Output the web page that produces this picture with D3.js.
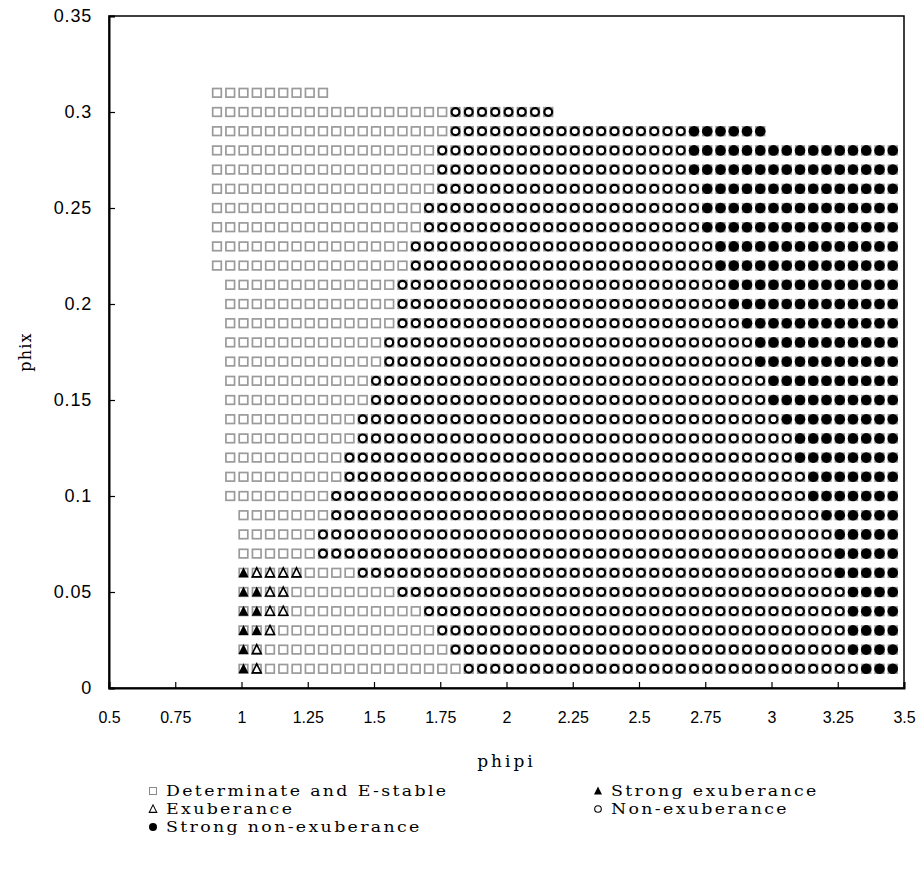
<!DOCTYPE html>
<html><head><meta charset="utf-8">
<script src="https://cdn.jsdelivr.net/npm/d3@7"></script>
<style>body{margin:0;background:#fff}</style>
</head><body>
<svg id="c" width="923" height="879"></svg>
<script>
// Rows of the grid (phix), top to bottom
const phix = [0.31,0.30,0.29,0.28,0.27,0.26,0.25,0.24,0.23,0.22,0.21,0.20,0.19,0.18,0.17,0.16,0.15,0.14,0.13,0.12,0.11,0.10,0.09,0.08,0.07,0.06,0.05,0.04,0.03,0.02,0.01];
// First and last phipi of each row (Determinate and E-stable region)
const rowStart = [0.9,0.9,0.9,0.9,0.9,0.9,0.9,0.9,0.9,0.9,0.95,0.95,0.95,0.95,0.95,0.95,0.95,0.95,0.95,0.95,0.95,0.95,1.0,1.0,1.0,1.0,1.0,1.0,1.0,1.0,1.0];
const rowEnd   = [1.3,2.15,2.95,3.45,3.45,3.45,3.45,3.45,3.45,3.45,3.45,3.45,3.45,3.45,3.45,3.45,3.45,3.45,3.45,3.45,3.45,3.45,3.45,3.45,3.45,3.45,3.45,3.45,3.45,3.45,3.45];
// Last phipi of "Strong exuberance" and "Exuberance" (null = none)
const strongExEnd = [null,null,null,null,null,null,null,null,null,null,null,null,null,null,null,null,null,null,null,null,null,null,null,null,null,1.0,1.05,1.05,1.05,1.0,1.0];
const exEnd       = [null,null,null,null,null,null,null,null,null,null,null,null,null,null,null,null,null,null,null,null,null,null,null,null,null,1.2,1.15,1.15,1.1,1.05,1.05];
// First phipi of "Non-exuberance" and "Strong non-exuberance"
const nonExStart = [null,1.8,1.8,1.75,1.75,1.75,1.7,1.7,1.65,1.65,1.6,1.6,1.6,1.55,1.55,1.5,1.5,1.45,1.45,1.4,1.4,1.35,1.35,1.3,1.3,1.45,1.6,1.7,1.75,1.8,1.85];
const strongNonExStart = [null,null,2.7,2.7,2.7,2.75,2.75,2.75,2.8,2.8,2.85,2.85,2.9,2.95,2.95,3.0,3.0,3.05,3.1,3.1,3.15,3.15,3.2,3.25,3.25,3.25,3.3,3.3,3.3,3.3,3.35];

const xTicks = [0.5,0.75,1,1.25,1.5,1.75,2,2.25,2.5,2.75,3,3.25,3.5];
const yTicks = [0,0.05,0.1,0.15,0.2,0.25,0.3,0.35];
const xTickLabels = ["0.5","0.75","1","1.25","1.5","1.75","2","2.25","2.5","2.75","3","3.25","3.5"];
const yTickLabels = ["0","0.05","0.1","0.15","0.2","0.25","0.3","0.35"];
const legendItems = ["Determinate and E-stable","Strong exuberance","Exuberance","Non-exuberance","Strong non-exuberance"];

// Build the grid points (phipi on a 0.05 grid)
const squares=[], triF=[], triO=[], circO=[], circF=[];
phix.forEach((py,i)=>{
  const a=Math.round(rowStart[i]*100), b=Math.round(rowEnd[i]*100);
  for(let k=a;k<=b;k+=5){
    const px=k/100, p={x:px,y:py};
    squares.push(p);
    if(strongExEnd[i]!==null && k<=Math.round(strongExEnd[i]*100)) triF.push(p);
    else if(exEnd[i]!==null && k<=Math.round(exEnd[i]*100)) triO.push(p);
    if(strongNonExStart[i]!==null && k>=Math.round(strongNonExStart[i]*100)) circF.push(p);
    else if(nonExStart[i]!==null && k>=Math.round(nonExStart[i]*100)) circO.push(p);
  }
});

const svg=d3.select("#c");
const L=109,R=904,T=16,B=688;
const x=d3.scaleLinear().domain([0.5,3.5]).range([L,R]);
const y=d3.scaleLinear().domain([0,0.35]).range([B,T]);
const dx=2;

// frame
svg.append("rect").attr("x",L).attr("y",T).attr("width",R-L).attr("height",B-T)
  .attr("fill","none").attr("stroke","#000").attr("stroke-width",1.5);

// axes with inside ticks
const xa=svg.append("g").attr("transform",`translate(0,${B})`)
  .call(d3.axisBottom(x).tickValues(xTicks).tickSize(-6).tickPadding(24).tickFormat((d,i)=>xTickLabels[i]));
const ya=svg.append("g").attr("transform",`translate(${L},0)`)
  .call(d3.axisLeft(y).tickValues(yTicks).tickSize(-6).tickPadding(17).tickFormat((d,i)=>yTickLabels[i]));
[xa,ya].forEach(g=>{
  g.select(".domain").attr("stroke","#000").attr("stroke-width",2);
  g.selectAll(".tick line").attr("stroke","#000").attr("stroke-width",1.2);
  g.selectAll(".tick text").attr("font-family","'Liberation Sans', Arial, sans-serif").attr("fill","#000");
});
xa.selectAll(".tick text").attr("font-size",16);
ya.selectAll(".tick text").attr("font-size",18).attr("letter-spacing",0.8);

// marks
const g=svg.append("g");
g.selectAll(".sq").data(squares).join("rect")
  .attr("x",d=>x(d.x)+dx-4.3).attr("y",d=>y(d.y)-4.3).attr("width",8.6).attr("height",8.6)
  .attr("fill","none").attr("stroke","#9a9a9a").attr("stroke-width",1.7);
g.selectAll(".co").data(circO).join("circle")
  .attr("cx",d=>x(d.x)+dx).attr("cy",d=>y(d.y)).attr("r",3.9)
  .attr("fill","#fff").attr("stroke","#000").attr("stroke-width",2.2);
g.selectAll(".cf").data(circF).join("circle")
  .attr("cx",d=>x(d.x)+dx).attr("cy",d=>y(d.y)).attr("r",5.3).attr("fill","#000");
const tri=(cx,cy,s)=>`M${cx},${cy-s*0.55}L${cx+s*0.5},${cy+s*0.45}L${cx-s*0.5},${cy+s*0.45}Z`;
g.selectAll(".tf").data(triF).join("path")
  .attr("d",d=>tri(x(d.x)+dx,y(d.y),10)).attr("fill","#000");
g.selectAll(".to").data(triO).join("path")
  .attr("d",d=>tri(x(d.x)+dx,y(d.y),9)).attr("fill","#fff").attr("stroke","#000").attr("stroke-width",1.6);

// axis titles
const serif="'DejaVu Serif', 'Liberation Serif', serif";
svg.append("text").attr("x",(L+R)/2).attr("y",767).attr("text-anchor","middle")
  .attr("font-family",serif).attr("font-size",17).attr("letter-spacing",3).text("phipi");
svg.append("text").attr("transform","translate(31,352) rotate(-90)").attr("text-anchor","middle")
  .attr("font-family",serif).attr("font-size",16).attr("letter-spacing",1.2).text("phix");

// legend
const leg=[
  {t:legendItems[0],sx:153,ty:796,sym:"sq"},
  {t:legendItems[1],sx:598,ty:796,sym:"tf"},
  {t:legendItems[2],sx:153,ty:814,sym:"to"},
  {t:legendItems[3],sx:598,ty:814,sym:"co"},
  {t:legendItems[4],sx:153,ty:832,sym:"cf"}
];
leg.forEach(l=>{
  const cy=l.ty-5;
  if(l.sym==="sq") svg.append("rect").attr("x",l.sx-3.5).attr("y",cy-3.5).attr("width",7).attr("height",7).attr("fill","none").attr("stroke","#888").attr("stroke-width",1);
  if(l.sym==="tf") svg.append("path").attr("d",tri(l.sx,cy,8)).attr("fill","#000");
  if(l.sym==="to") svg.append("path").attr("d",tri(l.sx,cy,7.5)).attr("fill","none").attr("stroke","#000").attr("stroke-width",1.1);
  if(l.sym==="co") svg.append("circle").attr("cx",l.sx).attr("cy",cy).attr("r",3.3).attr("fill","none").attr("stroke","#000").attr("stroke-width",1.1);
  if(l.sym==="cf") svg.append("circle").attr("cx",l.sx).attr("cy",cy).attr("r",4).attr("fill","#000");
  svg.append("g").attr("transform",`translate(${l.sx+13},${l.ty}) scale(1.12,1)`)
    .append("text").attr("font-family",serif).attr("font-size",15.5)
    .attr("letter-spacing",2.1).text(l.t);
});
</script>
</body></html>
